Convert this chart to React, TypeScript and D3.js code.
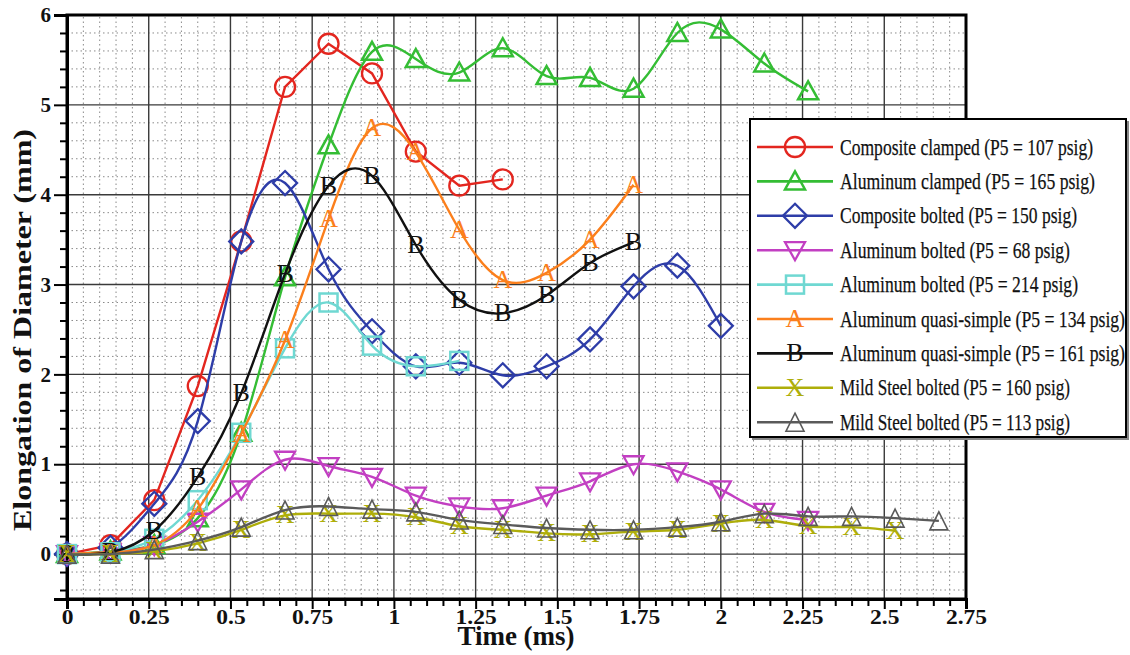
import React, { useEffect, useRef } from 'react';
import * as d3 from 'd3';

// time stamps of the samples (ms)
const times = [0, 0.133, 0.267, 0.4, 0.533, 0.667, 0.8, 0.933, 1.067, 1.2, 1.333, 1.467, 1.6, 1.733, 1.867, 2.0, 2.133, 2.267, 2.4, 2.533, 2.667];

// elongation values (mm), one list per test
const compositeClamped = [0, 0.1, 0.6, 1.87, 3.48, 5.2, 5.68, 5.35, 4.48, 4.1, 4.17];
const aluminumClamped = [0, 0.03, 0.1, 0.4, 1.35, 3.08, 4.55, 5.59, 5.51, 5.36, 5.63, 5.32, 5.3, 5.18, 5.8, 5.84, 5.46, 5.15];
const compositeBolted = [0, 0.07, 0.56, 1.48, 3.48, 4.13, 3.17, 2.48, 2.09, 2.13, 1.99, 2.09, 2.39, 2.98, 3.21, 2.54];
const aluminumBolted68 = [0, 0.02, 0.1, 0.36, 0.72, 1.05, 0.98, 0.86, 0.65, 0.53, 0.51, 0.65, 0.81, 1.0, 0.92, 0.72, 0.47, 0.38];
const aluminumBolted214 = [0, 0.02, 0.17, 0.6, 1.35, 2.29, 2.8, 2.32, 2.09, 2.15];
const quasiSimple134 = [0, 0.02, 0.1, 0.5, 1.34, 2.38, 3.73, 4.74, 4.47, 3.61, 3.05, 3.13, 3.5, 4.11];
const quasiSimple161 = [0, 0.02, 0.26, 0.86, 1.79, 3.12, 4.1, 4.21, 3.44, 2.83, 2.68, 2.88, 3.24, 3.47];
const mildSteel160 = [0, 0, 0.03, 0.12, 0.27, 0.43, 0.45, 0.45, 0.41, 0.31, 0.27, 0.23, 0.22, 0.25, 0.27, 0.34, 0.38, 0.31, 0.3, 0.26];
const mildSteel113 = [0, 0, 0.05, 0.15, 0.3, 0.49, 0.53, 0.5, 0.47, 0.38, 0.33, 0.29, 0.27, 0.27, 0.3, 0.36, 0.45, 0.42, 0.42, 0.4, 0.37];

const xMajorTicks = [0, 0.25, 0.5, 0.75, 1, 1.25, 1.5, 1.75, 2, 2.25, 2.5, 2.75];
const yMajorTicks = [0, 1, 2, 3, 4, 5, 6];

const series = [
  { name: 'Composite clamped (P5 = 107 psig)', values: compositeClamped, color: '#e3261f', marker: 'circle', curve: 'linear', textLen: 253 },
  { name: 'Aluminum clamped (P5 = 165 psig)', values: aluminumClamped, color: '#34bd34', marker: 'triangle', curve: 'natural', textLen: 255 },
  { name: 'Composite bolted (P5 = 150 psig)', values: compositeBolted, color: '#2e3da8', marker: 'diamond', curve: 'natural', textLen: 237 },
  { name: 'Aluminum bolted (P5 = 68 psig)', values: aluminumBolted68, color: '#c23fc2', marker: 'triangleDown', curve: 'natural', textLen: 230 },
  { name: 'Aluminum bolted (P5 = 214 psig)', values: aluminumBolted214, color: '#6fd8d2', marker: 'square', curve: 'natural', textLen: 238 },
  { name: 'Aluminum quasi-simple (P5 = 134 psig)', values: quasiSimple134, color: '#fb7f1c', marker: 'A', curve: 'natural', textLen: 285 },
  { name: 'Aluminum quasi-simple (P5 = 161 psig)', values: quasiSimple161, color: '#111111', marker: 'B', curve: 'natural', textLen: 285 },
  { name: 'Mild Steel bolted (P5 = 160 psig)', values: mildSteel160, color: '#aeae0a', marker: 'X', curve: 'natural', textLen: 230 },
  { name: 'Mild Steel bolted (P5 = 113 psig)', values: mildSteel113, color: '#5a5a5a', marker: 'openTri', curve: 'natural', textLen: 230 },
];

const SERIF = '"Liberation Serif", "Times New Roman", serif';

function drawMarker(g, kind, color, cx, cy) {
  if (kind === 'circle') {
    g.append('circle').attr('cx', cx).attr('cy', cy).attr('r', 10)
      .attr('fill', 'none').attr('stroke', color).attr('stroke-width', 2.3);
  } else if (kind === 'triangle') {
    g.append('path')
      .attr('d', `M${cx},${cy - 10} L${cx + 10},${cy + 8} L${cx - 10},${cy + 8} Z`)
      .attr('fill', 'none').attr('stroke', color).attr('stroke-width', 2.5);
  } else if (kind === 'triangleDown') {
    g.append('path')
      .attr('d', `M${cx - 10},${cy - 8} L${cx + 10},${cy - 8} L${cx},${cy + 10} Z`)
      .attr('fill', 'none').attr('stroke', color).attr('stroke-width', 2.3);
  } else if (kind === 'diamond') {
    g.append('path')
      .attr('d', `M${cx},${cy - 12} L${cx + 12},${cy} L${cx},${cy + 12} L${cx - 12},${cy} Z`)
      .attr('fill', 'none').attr('stroke', color).attr('stroke-width', 2.3);
  } else if (kind === 'square') {
    g.append('rect').attr('x', cx - 9).attr('y', cy - 9).attr('width', 18).attr('height', 18)
      .attr('fill', 'none').attr('stroke', color).attr('stroke-width', 2.5);
  } else if (kind === 'openTri') {
    g.append('path')
      .attr('d', `M${cx},${cy - 9} L${cx + 9},${cy + 9} L${cx - 9},${cy + 9} Z`)
      .attr('fill', 'none').attr('stroke', color).attr('stroke-width', 1.6);
  } else {
    g.append('text').attr('x', cx).attr('y', cy + 8)
      .attr('text-anchor', 'middle')
      .style('font-family', SERIF).style('font-size', '26px')
      .attr('fill', color).text(kind);
  }
}

const buildChart = (el) => {
  d3.select(el).selectAll('*').remove();
  const W = 1130, H = 655;
  const svg = d3.select(el).append('svg').attr('width', W).attr('height', H)
    .style('display', 'block').style('background', '#fff');

  const x = d3.scaleLinear().domain([0, 2.75]).range([67, 966]);
  const y = d3.scaleLinear().domain([-0.5, 6]).range([599, 15]);

  // minor dotted grid
  const xMinor = d3.range(1, 55).map(i => i * 0.05).filter(v => Math.abs(v / 0.25 - Math.round(v / 0.25)) > 1e-6);
  const yMinor = d3.range(-2, 30).map(i => i * 0.2).filter(v => Math.abs(v - Math.round(v)) > 1e-6);
  const grid = svg.append('g');
  grid.selectAll('line.xm').data(xMinor).enter().append('line')
    .attr('x1', d => x(d)).attr('x2', d => x(d)).attr('y1', y(-0.5)).attr('y2', y(6))
    .attr('stroke', '#8a8a8a').attr('stroke-width', 1).attr('stroke-dasharray', '1.5,3');
  grid.selectAll('line.ym').data(yMinor).enter().append('line')
    .attr('x1', x(0)).attr('x2', x(2.75)).attr('y1', d => y(d)).attr('y2', d => y(d))
    .attr('stroke', '#8a8a8a').attr('stroke-width', 1).attr('stroke-dasharray', '1.5,3');
  // major grid
  grid.selectAll('line.xM').data(xMajorTicks.slice(1, -1)).enter().append('line')
    .attr('x1', d => x(d)).attr('x2', d => x(d)).attr('y1', y(-0.5)).attr('y2', y(6))
    .attr('stroke', '#3a3a3a').attr('stroke-width', 1.4);
  grid.selectAll('line.yM').data(yMajorTicks.slice(0, -1)).enter().append('line')
    .attr('x1', x(0)).attr('x2', x(2.75)).attr('y1', d => y(d)).attr('y2', d => y(d))
    .attr('stroke', '#3a3a3a').attr('stroke-width', 1.4);

  // frame
  svg.append('rect').attr('x', x(0)).attr('y', y(6)).attr('width', x(2.75) - x(0)).attr('height', y(-0.5) - y(6))
    .attr('fill', 'none').attr('stroke', '#000').attr('stroke-width', 3);

  // axes
  const xAxis = svg.append('g').attr('transform', `translate(0,${y(-0.5)})`)
    .call(d3.axisBottom(x).tickValues(xMajorTicks).tickSize(10).tickPadding(0).tickFormat(d => String(d)));
  svg.append('g').attr('transform', `translate(0,${y(-0.5)})`)
    .call(d3.axisBottom(x).tickValues(xMinor).tickSize(7).tickFormat(() => ''))
    .call(g => g.select('.domain').remove());
  const yAxis = svg.append('g').attr('transform', `translate(${x(0)},0)`)
    .call(d3.axisLeft(y).tickValues(yMajorTicks).tickSize(13).tickPadding(3).tickFormat(d => String(d)));
  svg.append('g').attr('transform', `translate(${x(0)},0)`)
    .call(d3.axisLeft(y).tickValues(yMinor).tickSize(7).tickFormat(() => ''))
    .call(g => g.select('.domain').remove());
  svg.selectAll('.tick line').attr('stroke', '#000').attr('stroke-width', 2);
  svg.selectAll('.domain').attr('stroke', '#000').attr('stroke-width', 3);
  [xAxis, yAxis].forEach(a => a.selectAll('text')
    .style('font-family', SERIF).style('font-size', '21px').style('font-weight', 'bold').attr('fill', '#111'));
  xAxis.selectAll('text').attr('transform', 'scale(1.12,1)');

  // axis titles
  svg.append('text').attr('x', 516).attr('y', 645).attr('text-anchor', 'middle')
    .style('font-family', SERIF).style('font-size', '27px').style('font-weight', 'bold').attr('fill', '#111')
    .text('Time (ms)');
  svg.append('text').attr('transform', 'translate(31,330) rotate(-90)').attr('text-anchor', 'middle')
    .style('font-family', SERIF).style('font-size', '26px').style('font-weight', 'bold').attr('fill', '#111')
    .attr('textLength', 402).attr('lengthAdjust', 'spacingAndGlyphs')
    .text('Elongation of Diameter (mm)');

  // series
  const curves = { linear: d3.curveLinear, natural: d3.curveNatural };
  const plot = svg.append('g');
  series.forEach(s => {
    const pts = s.values.map((v, i) => [times[i], v]);
    const line = d3.line().x(d => x(d[0])).y(d => y(d[1])).curve(curves[s.curve]);
    plot.append('path').attr('d', line(pts)).attr('fill', 'none')
      .attr('stroke', s.color).attr('stroke-width', 2.4);
    pts.forEach(p => drawMarker(plot, s.marker, s.color, x(p[0]), y(p[1])));
  });

  // legend
  const lg = svg.append('g');
  lg.append('rect').attr('x', 752).attr('y', 121).attr('width', 377).attr('height', 319).attr('fill', '#888');
  lg.append('rect').attr('x', 750).attr('y', 119).attr('width', 376).attr('height', 318)
    .attr('fill', '#fff').attr('stroke', '#000').attr('stroke-width', 2);
  series.forEach((s, i) => {
    const cy = 147 + i * 34.4;
    lg.append('line').attr('x1', 757).attr('x2', 833).attr('y1', cy).attr('y2', cy)
      .attr('stroke', s.color).attr('stroke-width', 2.6);
    drawMarker(lg, s.marker, s.color, 795, cy);
    lg.append('text').attr('x', 840).attr('y', cy + 7.5)
      .style('font-family', SERIF).style('font-size', '24px').attr('fill', '#111')
      .attr('stroke', '#111').attr('stroke-width', 0.25)
      .attr('textLength', s.textLen).attr('lengthAdjust', 'spacingAndGlyphs')
      .text(s.name);
  });
};

const App = () => {
  const ref = useRef(null);
  useEffect(() => {
    buildChart(ref.current);
  }, []);
  return <div ref={ref} style={{ position: 'absolute', left: 0, top: 0 }} />;
};

export default App;
